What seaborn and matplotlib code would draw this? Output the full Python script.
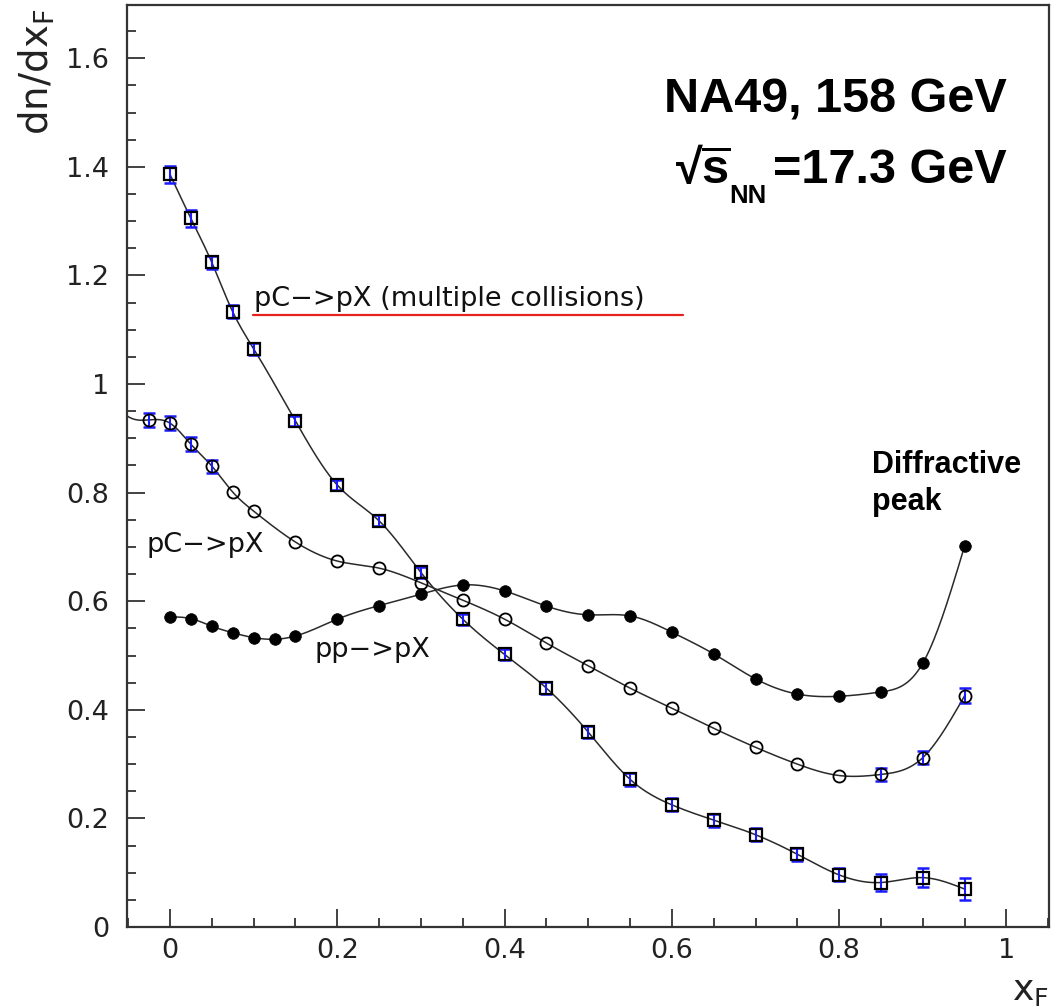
import numpy as np
import matplotlib
matplotlib.use("Agg")
import matplotlib.pyplot as plt
import seaborn as sns
from matplotlib.ticker import MultipleLocator, FuncFormatter
from matplotlib.transforms import IdentityTransform

# ---------------- data ----------------
# pC -> pX (multiple collisions)  (open squares)
sq_x = [0.0, 0.025, 0.05, 0.075, 0.1, 0.15, 0.2, 0.25, 0.3, 0.35, 0.4, 0.45,
        0.5, 0.55, 0.6, 0.65, 0.7, 0.75, 0.8, 0.85, 0.9, 0.95]
sq_y = [1.386, 1.305, 1.224, 1.133, 1.065, 0.932, 0.814, 0.748, 0.653, 0.567,
        0.502, 0.440, 0.359, 0.272, 0.225, 0.197, 0.170, 0.134, 0.096, 0.082,
        0.091, 0.070]
sq_err = [0.016, 0.015, 0.012, 0.012, 0.011, 0.010, 0.010, 0.010, 0.010, 0.010,
          0.010, 0.011, 0.011, 0.012, 0.012, 0.012, 0.012, 0.012, 0.012, 0.015,
          0.017, 0.020]

# pC -> pX (open circles)
oc_x = [-0.025, 0.0, 0.025, 0.05, 0.075, 0.1, 0.15, 0.2, 0.25, 0.3, 0.35, 0.4,
        0.45, 0.5, 0.55, 0.6, 0.65, 0.7, 0.75, 0.8, 0.85, 0.9, 0.95]
oc_y = [0.934, 0.928, 0.889, 0.849, 0.801, 0.766, 0.709, 0.674, 0.661, 0.634,
        0.602, 0.567, 0.523, 0.481, 0.440, 0.403, 0.366, 0.331, 0.300, 0.279,
        0.281, 0.312, 0.426]
oc_err = [0.013, 0.013, 0.013, 0.012, 0, 0, 0, 0, 0, 0, 0, 0, 0, 0, 0, 0, 0, 0,
          0, 0, 0.012, 0.012, 0.014]

# pp -> pX (filled circles)
fc_x = [0.0, 0.025, 0.05, 0.075, 0.1, 0.125, 0.15, 0.2, 0.25, 0.3, 0.35, 0.4,
        0.45, 0.5, 0.55, 0.6, 0.65, 0.7, 0.75, 0.8, 0.85, 0.9, 0.95]
fc_y = [0.571, 0.568, 0.554, 0.542, 0.533, 0.530, 0.536, 0.567, 0.592, 0.613,
        0.630, 0.619, 0.591, 0.575, 0.573, 0.543, 0.503, 0.457, 0.429, 0.425,
        0.433, 0.486, 0.702]

x_ticks = [0, 0.2, 0.4, 0.6, 0.8, 1.0]
y_ticks = [0, 0.2, 0.4, 0.6, 0.8, 1.0, 1.2, 1.4, 1.6]


def natural_spline(x, y, xs):
    x = np.asarray(x, float)
    y = np.asarray(y, float)
    n = len(x)
    h = np.diff(x)
    A = np.zeros((n, n))
    b = np.zeros(n)
    A[0, 0] = A[-1, -1] = 1.0
    for i in range(1, n - 1):
        A[i, i - 1] = h[i - 1]
        A[i, i] = 2 * (h[i - 1] + h[i])
        A[i, i + 1] = h[i]
        b[i] = 3 * ((y[i + 1] - y[i]) / h[i] - (y[i] - y[i - 1]) / h[i - 1])
    c = np.linalg.solve(A, b)
    bb = (y[1:] - y[:-1]) / h - h * (2 * c[:-1] + c[1:]) / 3
    d = (c[1:] - c[:-1]) / (3 * h)
    idx = np.clip(np.searchsorted(x, xs) - 1, 0, n - 2)
    dx = xs - x[idx]
    return y[idx] + bb[idx] * dx + c[idx] * dx ** 2 + d[idx] * dx ** 3


# ---------------- style ----------------
sns.set_style("ticks")
plt.rcParams["font.family"] = ["DejaVu Sans"]
plt.rcParams["mathtext.fontset"] = "custom"
plt.rcParams["mathtext.rm"] = "DejaVu Sans"
plt.rcParams["mathtext.it"] = "DejaVu Sans:italic"
plt.rcParams["mathtext.bf"] = "Liberation Sans:bold"
plt.rcParams["mathtext.sf"] = "DejaVu Sans"

fig = plt.figure(figsize=(10.6, 10.07), dpi=100)
ax = fig.add_axes([0.1198, 0.0794, 0.8698, 0.9156])
ax.set_xlim(-0.0514, 1.0508)
ax.set_ylim(0, 1.698)

line_col = "#2a2a2a"
xmin, xmax = ax.get_xlim()

# smooth curves
xs_sq = np.linspace(min(sq_x), max(sq_x), 600)
sns.lineplot(x=xs_sq, y=natural_spline(sq_x, sq_y, xs_sq), ax=ax,
             color=line_col, lw=1.1, zorder=2)
xs_oc = np.linspace(xmin, max(oc_x), 600)
sns.lineplot(x=xs_oc, y=natural_spline(oc_x, oc_y, xs_oc), ax=ax,
             color=line_col, lw=1.1, zorder=2)
xs_fc = np.linspace(min(fc_x), max(fc_x), 600)
sns.lineplot(x=xs_fc, y=natural_spline(fc_x, fc_y, xs_fc), ax=ax,
             color=line_col, lw=1.1, zorder=2)

# error bars
blue = "#1a1aff"
for X, Y, E in [(sq_x, sq_y, sq_err), (oc_x, oc_y, oc_err)]:
    X = np.asarray(X); Y = np.asarray(Y); E = np.asarray(E)
    m = E > 0
    ax.errorbar(X[m], Y[m], yerr=E[m], fmt="none", ecolor=blue, elinewidth=1.5,
                capsize=4, capthick=1.8, zorder=3)

# markers
ax.plot(sq_x, sq_y, ls="none", marker="s", ms=8.6, mfc="none", mec="black",
        mew=1.6, zorder=4)
ax.plot(oc_x, oc_y, ls="none", marker="o", ms=8.7, mfc="none", mec="black",
        mew=1.3, zorder=4)
ax.plot(fc_x, fc_y, ls="none", marker="o", ms=8.4, mfc="black", mec="black",
        mew=0.5, zorder=4)

# axes / ticks
for sp in ax.spines.values():
    sp.set_visible(True)
    sp.set_linewidth(1.6)
    sp.set_color("#333333")
ax.set_xticks(x_ticks)
ax.set_yticks(y_ticks)
ax.xaxis.set_minor_locator(MultipleLocator(0.05))
ax.yaxis.set_minor_locator(MultipleLocator(0.05))
fmt = FuncFormatter(lambda v, p: "%g" % round(v, 3))
ax.xaxis.set_major_formatter(fmt)
ax.yaxis.set_major_formatter(fmt)
ax.tick_params(which="both", direction="in", top=False, right=False,
               color="#333333", width=1.3)
ax.tick_params(which="major", length=13)
ax.tick_params(which="minor", length=6.5)
ax.tick_params(axis="x", which="major", labelsize=19.5, pad=8, labelcolor="#222222")
ax.tick_params(axis="y", which="major", labelsize=19.5, pad=13, labelcolor="#222222")

# axis titles
fig.text(37 / 1060, 1 - 8 / 1007, r"dn/dx$_{\mathrm{F}}$", rotation=90,
         ha="center", va="top", fontsize=28, color="#222222")
fig.text(1049 / 1060, 1 - 1000 / 1007, r"x$_{\mathrm{F}}$", ha="right",
         va="baseline", fontsize=26, color="#222222")

# annotations
bold_kw = dict(fontweight="bold", color="black",
               family=["Liberation Sans", "DejaVu Sans"])
ax.text(0.954, 0.883, "NA49, 158 GeV", transform=ax.transAxes, ha="right",
        va="baseline", fontsize=35, **bold_kw)
t_main = ax.text(0.954, 0.807, "=17.3 GeV", transform=ax.transAxes,
                 ha="right", va="baseline", fontsize=35, **bold_kw)
renderer = fig.canvas.get_renderer()
xr, yb = ax.transAxes.transform((0.954, 0.807))
bb_main = t_main.get_window_extent(renderer)
t_nn = ax.text(bb_main.x0 - 6, yb - 20, "NN", transform=IdentityTransform(),
               ha="right", va="baseline", fontsize=18.5, **bold_kw)
bb_nn = t_nn.get_window_extent(renderer)
ax.text(bb_nn.x0 + 1, yb, "\u221a" + r"$\mathbf{\overline{s}}$",
        transform=IdentityTransform(), ha="right", va="baseline",
        fontsize=35, **bold_kw)

ax.text(0.808, 0.492, "Diffractive", transform=ax.transAxes, ha="left",
        va="baseline", fontsize=22, **bold_kw)
ax.text(0.808, 0.452, "peak", transform=ax.transAxes, ha="left",
        va="baseline", fontsize=22, **bold_kw)

lab_kw = dict(transform=ax.transAxes, ha="left", va="baseline", fontsize=19.5,
              color="#111111")
ax.text((254 - 127) / 922, (927 - 306) / 922,
        "pC\u2212>pX (multiple collisions)", **lab_kw)
ax.plot([(253 - 127) / 922, (683 - 127) / 922], [(927 - 315) / 922] * 2,
        transform=ax.transAxes, color="#e8201c", lw=1.6, zorder=5)
ax.text((147 - 127) / 922, (927 - 552) / 922, "pC\u2212>pX", **lab_kw)
ax.text((315 - 127) / 922, (927 - 657) / 922, "pp\u2212>pX", **lab_kw)

fig.savefig("out.png", dpi=100)
